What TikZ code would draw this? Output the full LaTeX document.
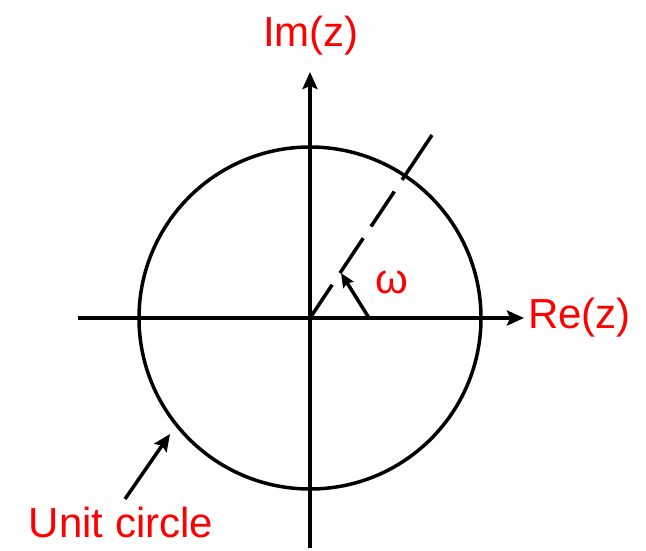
\documentclass[tikz,border=0pt]{standalone}
\usepackage{fontspec}
\setmainfont{Liberation Sans}
\usetikzlibrary{arrows.meta}
\begin{document}
\begin{tikzpicture}[x=1pt,y=-1pt,
  lbl/.style={text=red,font=\fontsize{42}{48}\selectfont,inner sep=0pt},
  ln/.style={line width=3.8pt,black},
  tip/.style={-{Stealth[length=17pt,width=15pt,inset=3pt]}}]
\useasboundingbox (0,0) rectangle (646,550);
\coordinate (O) at (310,318);
\coordinate (xl) at (78,318);
\coordinate (xr) at (524,318);
\coordinate (yb) at (310,548);
\coordinate (yt) at (310,72);
\draw[ln,line width=3.5pt] (O) circle[radius=171];
\draw[ln,tip] (xl) -- (xr);
\draw[ln,tip] (yb) -- (yt);
\node[lbl,anchor=west] (re) at (528,318) {Re(z)};
\node[lbl] (im) at (311,36) {Im(z)};
% dashed ray
\coordinate (e) at (432,135);
\draw[ln,line width=3.5pt,dash pattern=on 40pt off 14pt on 42pt off 14pt on 42pt off 14pt on 80pt] (O) -- (e);
% omega arrow
\coordinate (a0) at (369,318);
\coordinate (a1) at (341,273);
\draw[ln,line width=3.5pt,-{Stealth[length=14pt,width=12pt,inset=2pt]}] (a0) -- (a1);
\node[lbl] (om) at (392,282) {ω};
% unit circle label
\node[lbl] (uc) at (121,522) {Unit circle};
\coordinate (u0) at (125,499);
\coordinate (u1) at (170,434);
\draw[ln,line width=3.5pt,tip] (u0) -- (u1);
\end{tikzpicture}
\end{document}
